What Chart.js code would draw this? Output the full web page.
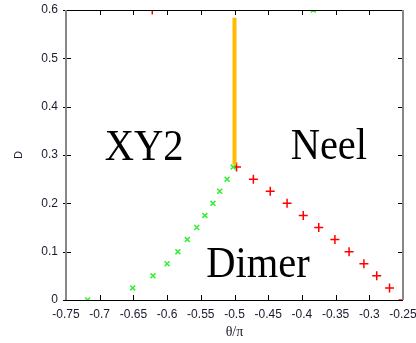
<!DOCTYPE html>
<html>
<head>
<meta charset="utf-8">
<script src="https://cdn.jsdelivr.net/npm/chart.js@4.4.0/dist/chart.umd.min.js"></script>
<style>
body { margin: 0; background: #fff; }
#wrap { width: 416px; height: 343px; }
</style>
</head>
<body>
<div id="wrap"><canvas id="phase" width="416" height="343"></canvas></div>
<script>
// 상경계 데이터 (θ/π, D)
const xy2Theta = [-0.718, -0.651, -0.621, -0.600, -0.584, -0.570, -0.556, -0.544, -0.532, -0.522, -0.511, -0.502, -0.383];
const xy2D     = [0, 0.025, 0.05, 0.075, 0.1, 0.125, 0.15, 0.175, 0.2, 0.225, 0.25, 0.275, 0.6];
const neelTheta = [-0.497, -0.472, -0.447, -0.422, -0.398, -0.375, -0.351, -0.330, -0.308, -0.289, -0.270, -0.250, -0.622];
const neelD     = [0.275, 0.25, 0.225, 0.2, 0.175, 0.15, 0.125, 0.1, 0.075, 0.05, 0.025, 0, 0.6];
const boundaryTheta = [-0.5, -0.5];
const boundaryD     = [0.28, 0.584];

// 상 이름과 위치 (데이터 좌표)
const phaseNames = ['XY2', 'Neel', 'Dimer'];
const phaseTheta = [-0.634, -0.36, -0.465];
const phaseD     = [0.29, 0.292, 0.048];

// 축 범위
const xRange = [-0.75, -0.25];
const yRange = [0, 0.6];

function toPoints(xs, ys) {
    return xs.map((x, i) => ({ x: x, y: ys[i] }));
}

function fmt(v) {
    return String(Math.round(v * 100) / 100);
}

// gnuplot 스타일 테두리, 안쪽 눈금, 상 이름
const framePlugin = {
    id: 'frame',
    afterDraw(chart) {
        const ctx = chart.ctx;
        const a = chart.chartArea;
        const xs = chart.scales.x;
        const ys = chart.scales.y;
        ctx.save();

        // 눈금
        ctx.strokeStyle = '#000';
        ctx.lineWidth = 1;
        ctx.beginPath();
        xs.ticks.forEach(t => {
            const px = Math.round(xs.getPixelForValue(t.value)) + 0.5;
            ctx.moveTo(px, a.top); ctx.lineTo(px, a.top + 5);
            ctx.moveTo(px, a.bottom); ctx.lineTo(px, a.bottom - 5);
        });
        ys.ticks.forEach(t => {
            const py = Math.round(ys.getPixelForValue(t.value)) + 0.5;
            ctx.moveTo(a.left - 3, py); ctx.lineTo(a.left + 5, py);
            ctx.moveTo(a.right, py); ctx.lineTo(a.right - 5, py);
        });
        ctx.stroke();

        // 테두리
        ctx.beginPath();
        ctx.moveTo(a.left, a.top + 0.5); ctx.lineTo(a.right, a.top + 0.5);
        ctx.moveTo(a.left, a.bottom + 0.5); ctx.lineTo(a.right, a.bottom + 0.5);
        ctx.stroke();
        ctx.strokeStyle = '#888';
        ctx.lineWidth = 2;
        ctx.beginPath();
        ctx.moveTo(a.left, a.top); ctx.lineTo(a.left, a.bottom);
        ctx.moveTo(a.right, a.top); ctx.lineTo(a.right, a.bottom);
        ctx.stroke();

        // 상 이름
        ctx.fillStyle = '#000';
        ctx.font = '45px "Liberation Serif", "DejaVu Serif", serif';
        ctx.textAlign = 'center';
        ctx.textBaseline = 'alphabetic';
        phaseNames.forEach((name, i) => {
            const px = xs.getPixelForValue(phaseTheta[i]);
            const py = ys.getPixelForValue(phaseD[i]);
            ctx.save();
            ctx.translate(px, py);
            ctx.scale(0.9, 1);
            ctx.fillText(name, 0, 0);
            ctx.restore();
        });
        ctx.restore();
    }
};

const tickFont = { family: '"Liberation Sans", Arial, sans-serif', size: 12 };

new Chart(document.getElementById('phase'), {
    type: 'scatter',
    data: {
        datasets: [
            {
                label: 'boundary',
                data: toPoints(boundaryTheta, boundaryD),
                showLine: true,
                borderColor: '#ffbb00',
                borderWidth: 4,
                pointRadius: 0,
                borderCapStyle: 'butt'
            },
            {
                label: 'XY2',
                data: toPoints(xy2Theta, xy2D),
                pointStyle: 'crossRot',
                pointRadius: 3.5,
                borderWidth: 1.5,
                borderColor: '#33ee33',
                backgroundColor: '#33ee33'
            },
            {
                label: 'Neel',
                data: toPoints(neelTheta, neelD),
                pointStyle: 'cross',
                pointRadius: 4.5,
                borderWidth: 1.5,
                borderColor: '#ff0000',
                backgroundColor: '#ff0000'
            }
        ]
    },
    options: {
        responsive: false,
        animation: false,
        layout: { padding: { top: 10, right: 13, bottom: 0, left: 0 } },
        plugins: {
            legend: { display: false },
            tooltip: { enabled: false }
        },
        scales: {
            x: {
                type: 'linear',
                min: xRange[0],
                max: xRange[1],
                grid: { display: false, drawTicks: false },
                border: { display: false },
                ticks: {
                    stepSize: 0.05,
                    padding: 7,
                    maxRotation: 0,
                    autoSkip: false,
                    color: '#1a1a2e',
                    font: tickFont,
                    callback: v => fmt(v)
                },
                title: {
                    display: true,
                    text: 'θ/π',
                    color: '#1a1a2e',
                    font: { family: '"Liberation Serif", serif', size: 14 },
                    padding: { top: 0, bottom: 2 }
                },
                afterFit: s => { s.height = 43; s.paddingLeft = 0; s.paddingRight = 0; }
            },
            y: {
                type: 'linear',
                min: yRange[0],
                max: yRange[1],
                grid: { display: false, drawTicks: false },
                border: { display: false },
                ticks: {
                    stepSize: 0.1,
                    padding: 8,
                    color: '#1a1a2e',
                    font: tickFont,
                    callback: v => fmt(v)
                },
                title: {
                    display: true,
                    text: 'D',
                    color: '#1a1a2e',
                    font: { family: '"Liberation Sans", Arial, sans-serif', size: 11 },
                    padding: { top: 12, bottom: 0 }
                },
                afterFit: s => { s.width = 66; s.paddingTop = 0; s.paddingBottom = 0; }
            }
        }
    },
    plugins: [framePlugin]
});
</script>
</body>
</html>
